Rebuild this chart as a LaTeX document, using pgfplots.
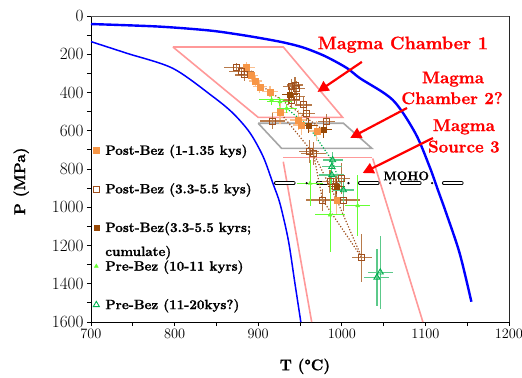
\documentclass[border=0pt]{standalone}
\usepackage{fontspec}
\setmainfont{Latin Modern Roman}[BoldFeatures={FakeBold=1.2}]
\usepackage{pgfplots}
\usepackage{pgfplotstable}
\pgfplotsset{compat=1.18}
\usetikzlibrary{arrows.meta}
\definecolor{cOrange}{HTML}{F79646}
\definecolor{cOrangeL}{HTML}{FAC090}
\definecolor{cBrown}{HTML}{A0501E}
\definecolor{cBrownL}{HTML}{B87A4A}
\definecolor{cDark}{HTML}{974806}
\definecolor{cGreen}{HTML}{66FF33}
\definecolor{cGreenD}{HTML}{00B050}
\definecolor{cGreenL}{HTML}{5CC98A}
\definecolor{cPink}{HTML}{FF9999}
\definecolor{cGray}{HTML}{A6A6A6}
\pgfplotsset{mylegend/.style={legend image code/.code={\draw[mark repeat=2,mark phase=2,##1] plot coordinates {(0bp,0bp)(4bp,0bp)(8bp,0bp)};}}}

\pgfplotstableread{
x y ex ey
886 268 10 30
892 312 8 30
897 340 8 30
902 370 8 30
914 396 10 30
926 504 10 60
948 544 10 50
952 570 10 50
970 601 10 50
994 962 10 80
}\postA
\pgfplotstableread{
x y ex ey
874 268 15 20
880 291 15 20
884 308 12 30
944 361 10 40
946 378 10 40
940 370 10 40
946 422 10 40
954 465 10 40
940 439 10 40
958 509 10 40
917 549 15 40
982 553 10 40
966 718 15 60
961 710 12 60
977 962 20 60
1002 962 20 60
993 892 10 60
1000 849 10 80
986 866 10 60
1024 1264 12 125
}\postB
\pgfplotstableread{
x y ex ey
938 413 10 40
960 574 10 40
978 596 10 40
994 892 10 40
}\postC
\pgfplotstableread{
x y ex ey
916 439 15 25
926 448 15 25
934 483 12 25
962 875 16 120
986 1040 18 195
1019 992 15 160
}\preA
\pgfplotstableread{
x y ex ey
989 753 12 40
988 788 12 40
988 831 15 50
1002 910 12 60
1046 1340 15 190
1042 1367 15 150
}\preB

\begin{document}
\begin{tikzpicture}
\begin{axis}[
  width=418bp, height=306bp, scale only axis,
  xmin=700, xmax=1200, ymin=0, ymax=1600, y dir=reverse,
  xtick={700,800,...,1200}, ytick={0,200,...,1600},
  minor x tick num=1, minor y tick num=1,
  tick pos=left, tick align=outside,
  major tick length=4bp, minor tick length=4bp,
  every tick/.style={black, line width=0.8pt},
  axis line style={black, line width=0.9pt},
  xticklabel style={font=\fontsize{13.5}{14}\selectfont, /pgf/number format/1000 sep={}},
  yticklabel style={font=\fontsize{17}{18}\selectfont, /pgf/number format/1000 sep={}},
  xlabel={T (°C)}, ylabel={P (MPa)},
  every axis x label/.style={at={(axis description cs:0.512,-0.145)}, anchor=center, font=\fontsize{15.5}{16}\selectfont\bfseries},
  every axis y label/.style={at={(axis description cs:-0.167,0.46)}, rotate=90, anchor=center, font=\fontsize{15.5}{16}\selectfont\bfseries},
  legend style={draw=none, fill=none, at={(axis description cs:0.005,0.58)}, anchor=north west,
    inner xsep=0pt, inner ysep=0pt, column sep=6bp, row sep=27bp,
    nodes={inner sep=0pt}, font=\fontsize{13.5}{15}\selectfont\bfseries},
  legend cell align=left,
]
% curves
\addplot[blue, line width=2.4bp, smooth, forget plot] coordinates {
(700,42)(780,55)(840,75)(874,95)(902,115)(930,138)(954,165)(980,210)(1006,272)(1022,326)(1061,439)(1088,613)(1105,788)(1115,910)(1125,1032)(1141,1241)(1155,1494)};
\addplot[blue, line width=1.5bp, smooth, forget plot] coordinates {
(700,134)(743,195)(798,274)(846,422)(870,509)(890,610)(906,736)(918,880)(926,980)(936,1171)(944,1400)(951,1600)};
% chambers
\addplot[cPink, line width=1.6bp, forget plot] coordinates {(798,162)(930,162)(1001,530)(900,530)(798,162)};
\addplot[cGray, line width=1.6bp, forget plot] coordinates {(900,561)(1002,561)(1036,692)(928,692)(900,561)};
\addplot[cPink, line width=1.6bp, forget plot] coordinates {(930,739)(1036,739)};
\addplot[cPink, line width=1.6bp, forget plot] coordinates {(1037,745)(1097,1600)};
\addplot[cPink, line width=1.6bp, forget plot] coordinates {(930,762)(964,1600)};
% moho
\addplot[black, line width=0.8bp, double=white, double distance=2bp, line cap=round, dash pattern=on 18bp off 24bp, forget plot] coordinates {(921,874)(1145,874)};
\addplot[only marks, mark=*, mark size=0.9bp, black, forget plot] coordinates {(958,874)(1008,874)(1058,874)(1108,874)};
% dotted trends
\addplot[cBrown, line width=1.2bp, dash pattern=on 1.2bp off 1.8bp, forget plot] coordinates {(874,268)(914,396)(978,596)};
\addplot[cBrown, line width=1.2bp, dash pattern=on 1.2bp off 1.8bp, forget plot] coordinates {(926,504)(966,718)(977,962)(1024,1264)};
\addplot[cBrown, line width=1.2bp, dash pattern=on 1.2bp off 1.8bp, forget plot] coordinates {(966,718)(994,962)(1024,1264)};
\addplot[cGreenD, line width=1.2bp, dash pattern=on 1.2bp off 1.8bp, forget plot] coordinates {(934,483)(960,575)(988,753)(1001,910)};
% data
\addplot[only marks, mylegend, mark=square*, mark size=3bp, color=cOrange,
  error bars/.cd, x dir=both, x explicit, y dir=both, y explicit, error mark=none,
  error bar style={cOrangeL, line width=1.2bp}]
  table[x=x, y=y, x error=ex, y error=ey] {\postA};
\addplot[only marks, mylegend, mark=square, mark size=3bp, color=cBrown, mark options={line width=0.9bp},
  error bars/.cd, x dir=both, x explicit, y dir=both, y explicit, error mark=none,
  error bar style={cBrownL, line width=1.2bp}]
  table[x=x, y=y, x error=ex, y error=ey] {\postB};
\addplot[only marks, mylegend, mark=square*, mark size=2.5bp, color=cDark,
  error bars/.cd, x dir=both, x explicit, y dir=both, y explicit, error mark=none,
  error bar style={cDark, line width=1bp}]
  table[x=x, y=y, x error=ex, y error=ey] {\postC};
\addplot[only marks, mylegend, mark=triangle*, mark size=2.3bp, color=cGreen,
  error bars/.cd, x dir=both, x explicit, y dir=both, y explicit, error mark=none,
  error bar style={cGreen, line width=1bp}]
  table[x=x, y=y, x error=ex, y error=ey] {\preA};
\addplot[only marks, mylegend, mark=triangle, mark size=3.5bp, color=cGreenD, mark options={line width=0.9bp},
  error bars/.cd, x dir=both, x explicit, y dir=both, y explicit, error mark=none,
  error bar style={cGreenL, line width=1.2bp}]
  table[x=x, y=y, x error=ex, y error=ey] {\preB};
\legend{Post-Bez (1-1.35 kys), Post-Bez (3.3-5.5 kys), {\smash{\rlap{\raisebox{-24bp}{cumulate)}}}Post-Bez(3.3-5.5 kyrs;}, Pre-Bez (10-11 kyrs), Pre-Bez (11-20kys?)}
% annotations
\node[font=\fontsize{18}{18}\selectfont\bfseries, text=red] at (axis cs:1073,150) {Magma Chamber 1};
\node[font=\fontsize{17}{17}\selectfont\bfseries, text=red] at (axis cs:1133,330) {Magma};
\node[font=\fontsize{17}{17}\selectfont\bfseries, text=red] at (axis cs:1132,430) {Chamber 2?};
\node[font=\fontsize{17}{17}\selectfont\bfseries, text=red] at (axis cs:1146,580) {Magma};
\node[font=\fontsize{17}{17}\selectfont\bfseries, text=red] at (axis cs:1146,683) {Source 3};
\node[font=\fontsize{12.6}{13}\selectfont\bfseries] at (axis cs:1077,836) {MOHO};
\draw[red, line width=2.2bp, -{Triangle[length=11bp, width=11bp]}] (axis cs:1024,240) -- (axis cs:971,397);
\draw[red, line width=2.2bp, -{Triangle[length=11bp, width=11bp]}] (axis cs:1078,481) -- (axis cs:1010,638);
\draw[red, line width=2.2bp, -{Triangle[length=11bp, width=11bp]}] (axis cs:1109,638) -- (axis cs:1025,821);
\draw[white, line width=1.3bp] (axis description cs:0,1) -- (axis description cs:1,1) -- (axis description cs:1,0);
\draw[black!65, line width=0.6bp] (axis description cs:0,1) -- (axis description cs:1,1) -- (axis description cs:1,0);
\end{axis}
\pgfresetboundingbox
\useasboundingbox (-91bp,-56bp) rectangle (431bp,322bp);
\end{tikzpicture}
\end{document}
